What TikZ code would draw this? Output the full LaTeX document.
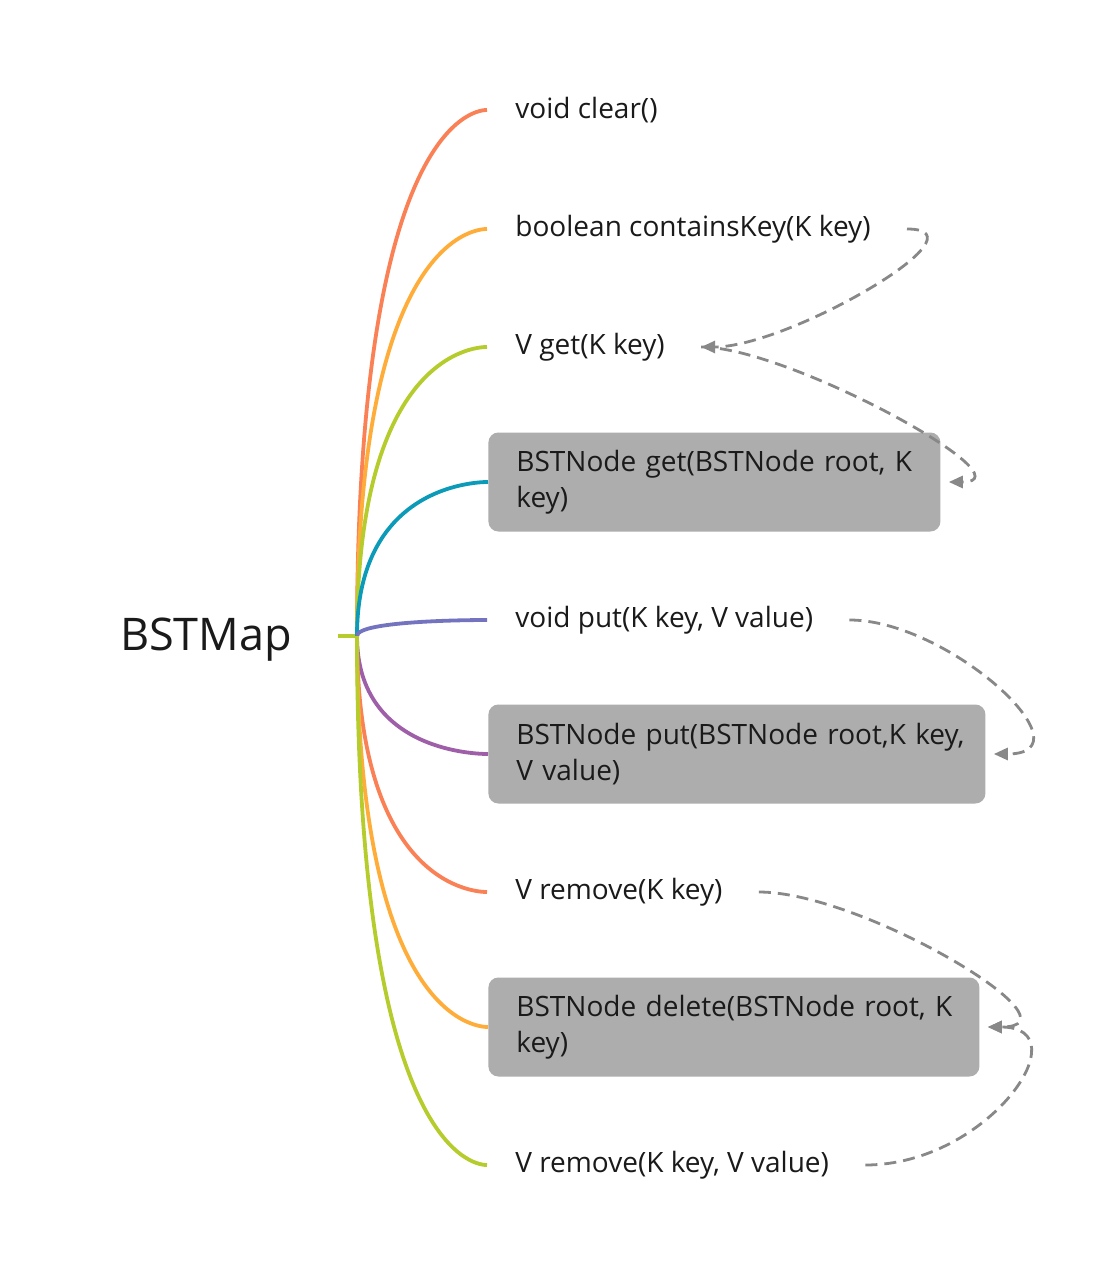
\documentclass[tikz,border=0pt]{standalone}
\usepackage{fontspec}
\setmainfont{Open Sans}
\usetikzlibrary{arrows.meta}

\definecolor{coral}{HTML}{FA8155}
\definecolor{amber}{HTML}{FFAD3A}
\definecolor{lime}{HTML}{B6CB2C}
\definecolor{teal}{HTML}{0C9AB9}
\definecolor{iris}{HTML}{7373C0}
\definecolor{plum}{HTML}{9E5EA8}
\definecolor{boxgray}{HTML}{ADADAD}
\definecolor{linkgray}{HTML}{888888}
\definecolor{ink}{HTML}{1A1A1A}

\begin{document}
\begin{tikzpicture}[x=0.5pt, y=-0.5pt,
    leaf/.style={anchor=west, inner xsep=14pt, text=ink,
        font=\fontsize{14}{18}\selectfont},
    box/.style={leaf, fill=boxgray, rounded corners=5pt, align=left,
        minimum height=49.5pt},
    branch/.style={line width=1.9pt},
    link/.style={linkgray, line width=1.4pt, dash pattern=on 6pt off 3.5pt,
        -{Triangle[length=7pt, width=6pt]}}]
    % 1. Khung trang
    \useasboundingbox (0,0) rectangle (1107,1272);
    \fill[white] (0,0) rectangle (1107,1272);

    % 2. Nút gốc
    \node[font=\fontsize{22.5}{27}\selectfont, text=ink, inner xsep=23pt] (root) at (206,640) {BSTMap};
    \coordinate (hub) at (357,636);
    \draw[branch, lime] (root.east |- hub) -- (hub);

    % 3. Các phương thức
    \node[leaf] (clear) at (487,110) {void clear()};
    \node[leaf] (ck) at (487,229) {boolean containsKey(K key)};
    \node[leaf] (vget) at (487,347) {V get(K key)};
    \node[box, text width=198pt] (getbox) at (488,482) {\mbox{BSTNode get(BSTNode root, K}\\key)};
    \node[leaf] (put) at (487,620) {void put(K key, V value)};
    \node[box, text width=220.5pt] (putbox) at (488,754) {\mbox{BSTNode put(BSTNode root,K key,}\\V value)};
    \node[leaf] (rm) at (487,892) {V remove(K key)};
    \node[box, text width=217.5pt] (delbox) at (488,1027) {\mbox{BSTNode delete(BSTNode root, K}\\key)};
    \node[leaf] (rmv) at (487,1165) {V remove(K key, V value)};

    % 4. Nhánh cong từ gốc
    \foreach \n/\c in {clear/coral, ck/amber, vget/lime, getbox/teal, put/iris,
                       putbox/plum, rm/coral, delbox/amber, rmv/lime}
        \draw[branch, \c] (hub) .. controls (hub |- \n.west) and ([xshift=-3pt]\n.west) .. (\n.west);

    % 5. Liên kết nét đứt
    \draw[link] ([xshift=4pt]ck.east) .. controls +(85,0) and +(88,0) .. ([xshift=4pt]vget.east);
    \draw[link] ([xshift=4pt]vget.east) .. controls +(88,0) and +(85,0) .. ([xshift=4pt]getbox.east);
    \draw[link] ([xshift=4pt]put.east) .. controls +(100,0) and +(100,0) .. ([xshift=4pt]putbox.east);
    \draw[link] ([xshift=4pt]rm.east) .. controls +(104,0) and +(100,0) .. ([xshift=4pt]delbox.east);
    \draw[link] ([xshift=4pt]rmv.east) .. controls +(123,0) and +(95,0) .. ([xshift=4pt]delbox.east);
\end{tikzpicture}
\end{document}
